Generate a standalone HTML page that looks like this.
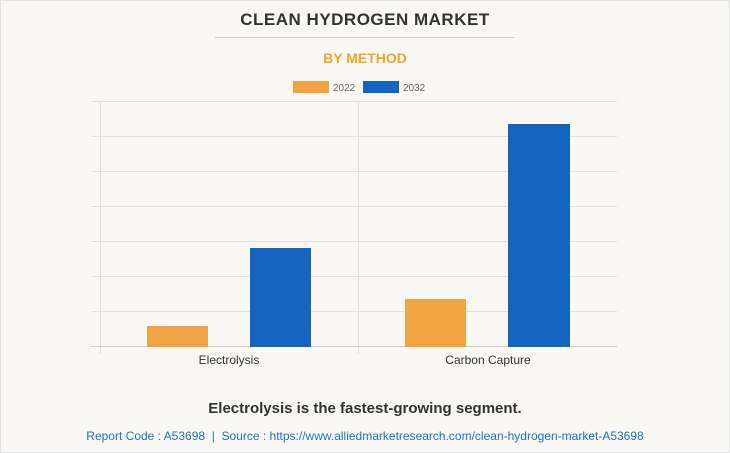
<!DOCTYPE html>
<html><head><style>
body{margin:0;background:#fff;}
.wrap{position:relative;box-sizing:border-box;width:730px;height:453px;border:1px solid #e2e2e2;background:#f9f8f4;font-family:"Liberation Sans",sans-serif;overflow:hidden}
.in{position:absolute;left:-1px;top:-1px;width:730px;height:453px}
.t{position:absolute;left:0;width:730px;text-align:center}
</style></head><body><div class="wrap"><div class="in">
<div class="t" style="top:10px;font-size:17px;font-weight:bold;color:#333;letter-spacing:0.5px">CLEAN HYDROGEN MARKET</div>
<div style="position:absolute;left:215px;top:37px;width:300px;height:1px;background:#ccc"></div>
<div class="t" style="top:50px;font-size:14px;font-weight:bold;color:#f5a623">BY METHOD</div>
<svg style="position:absolute;left:0;top:0" width="730" height="453">
<rect x="293" y="81" width="36" height="12" fill="#f2a444"/>
<text x="333" y="91" font-size="10" fill="#666" font-family="Liberation Sans">2022</text>
<rect x="363" y="81" width="36" height="12" fill="#1565c0"/>
<text x="403" y="91" font-size="10" fill="#666" font-family="Liberation Sans">2032</text>
<g stroke="#e0e0dc" stroke-width="1">
<line x1="91" y1="101.5" x2="617" y2="101.5"/><line x1="91" y1="136.5" x2="617" y2="136.5"/>
<line x1="91" y1="171.5" x2="617" y2="171.5"/><line x1="91" y1="206.5" x2="617" y2="206.5"/>
<line x1="91" y1="241.5" x2="617" y2="241.5"/><line x1="91" y1="276.5" x2="617" y2="276.5"/>
<line x1="91" y1="311.5" x2="617" y2="311.5"/>
<line x1="100.5" y1="101" x2="100.5" y2="354"/><line x1="358.5" y1="101" x2="358.5" y2="354"/>
</g>
<line x1="91" y1="346.5" x2="617" y2="346.5" stroke="#ccc"/>
<rect x="147" y="326" width="61" height="21" fill="#f2a444"/>
<rect x="250" y="248" width="61" height="99" fill="#1565c0"/>
<rect x="405" y="299" width="61" height="48" fill="#f2a444"/>
<rect x="508" y="124" width="62" height="223" fill="#1565c0"/>
<text x="229" y="364" font-size="12" fill="#333" text-anchor="middle" font-family="Liberation Sans">Electrolysis</text>
<text x="488" y="364" font-size="12" fill="#333" text-anchor="middle" font-family="Liberation Sans">Carbon Capture</text>
</svg>
<div class="t" style="top:400px;font-size:15px;font-weight:bold;color:#333">Electrolysis is the fastest-growing segment.</div>
<div class="t" style="top:429px;font-size:12px;color:#2a6fb8">Report Code : A53698 &nbsp;|&nbsp; Source : https://www.alliedmarketresearch.com/clean-hydrogen-market-A53698</div>
</div></div></body></html>
